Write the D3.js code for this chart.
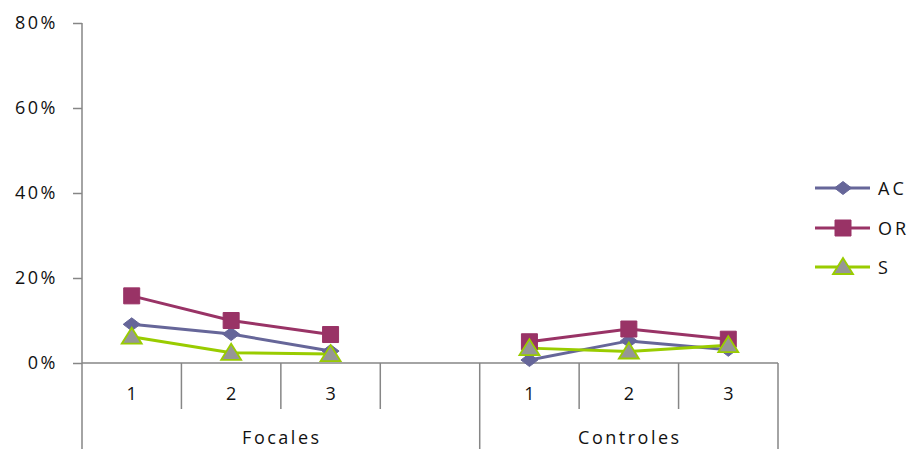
<!DOCTYPE html>
<html>
<head>
<meta charset="utf-8">
<script src="https://cdn.jsdelivr.net/npm/d3@7"></script>
<style>
  html, body { margin: 0; padding: 0; background: #fff; }
  svg { display: block; }
  text { font-family: "Open Sans", "DejaVu Sans", sans-serif; fill: #111; }
</style>
</head>
<body>
<script>
// Category slots along the x axis (empty slot separates the two groups)
const slots = ["1", "2", "3", "", "1", "2", "3"];
const groupNames = ["Focales", "Controles"];
const groupSpans = [4, 3];

// Series values in percent (null = no value in that slot)
const seriesNames = ["AC", "OR", "S"];
const acValues = [9.1, 6.8, 2.8, null, 0.7, 5.2, 3.1];
const orValues = [15.8, 10.0, 6.7, null, 5.0, 8.0, 5.6];
const sValues  = [6.2, 2.4, 2.1, null, 3.5, 2.7, 4.2];
const yTicks = [0, 20, 40, 60, 80];

const W = 912, H = 449;
const plotLeft = 82, plotRight = 778, plotTop = 23, plotBase = 363;

const svg = d3.select("body").append("svg").attr("width", W).attr("height", H);

const x = d3.scaleBand().domain(d3.range(slots.length)).range([plotLeft, plotRight]).padding(0);
const y = d3.scaleLinear().domain([0, 80]).range([plotBase, plotTop]);

const axisColor = "#868686";
const fontSize = 18;

// Y axis
const yAxis = svg.append("g").attr("transform", `translate(${plotLeft},0)`)
  .call(d3.axisLeft(y).tickValues(yTicks).tickFormat(d => d + "%").tickSize(9).tickPadding(15));
yAxis.select(".domain").remove();
yAxis.selectAll("line").attr("stroke", axisColor).attr("stroke-width", 1.5);
yAxis.selectAll("text").attr("font-size", fontSize).attr("letter-spacing", 2.5)
  .style("font-family", "'Open Sans', sans-serif").attr("fill", "#111");
svg.append("line").attr("x1", plotLeft).attr("x2", plotLeft).attr("y1", plotTop).attr("y2", H)
  .attr("stroke", axisColor).attr("stroke-width", 1.5);

// X axis baseline
svg.append("line").attr("x1", plotLeft).attr("x2", plotRight).attr("y1", plotBase).attr("y2", plotBase)
  .attr("stroke", axisColor).attr("stroke-width", 1.5);

// Slot dividers: short inside a group, long at group boundaries
const boundaries = [0];
groupSpans.reduce((acc, s) => { boundaries.push(acc + s); return acc + s; }, 0);
for (let i = 1; i <= slots.length; i++) {
  const xb = i < slots.length ? x(i) : plotRight;
  const isGroupEdge = boundaries.includes(i);
  svg.append("line").attr("x1", xb).attr("x2", xb).attr("y1", plotBase)
    .attr("y2", isGroupEdge ? H : 409)
    .attr("stroke", axisColor).attr("stroke-width", 1.5);
}

// Slot labels
svg.selectAll(".slotLabel").data(slots).enter().append("text")
  .attr("x", (d, i) => x(i) + x.bandwidth() / 2)
  .attr("y", 400).attr("text-anchor", "middle").attr("font-size", fontSize)
  .text(d => d);

// Group labels
let start = 0;
groupNames.forEach((g, gi) => {
  const x0 = x(start);
  const x1 = start + groupSpans[gi] < slots.length ? x(start + groupSpans[gi]) : plotRight;
  svg.append("text").attr("x", (x0 + x1) / 2 + 1).attr("y", 444)
    .attr("text-anchor", "middle").attr("font-size", fontSize).attr("letter-spacing", 2.5)
    .text(g);
  start += groupSpans[gi];
});

// Marker shapes
const diamondPath = "M0,-6.5L8.5,0L0,6.5L-8.5,0Z";
const squarePath = "M-8,-8H8V8H-8Z";
const trianglePath = "M0,-9L10,7L-10,7Z";

// Series
const series = [
  { name: seriesNames[0], values: acValues, stroke: "#666699", fill: "#666699", shape: diamondPath, markStroke: "#666699", mw: 1 },
  { name: seriesNames[1], values: orValues, stroke: "#993366", fill: "#993366", shape: squarePath, markStroke: "#993366", mw: 1 },
  { name: seriesNames[2], values: sValues, stroke: "#99cc00", fill: "#969696", shape: trianglePath, markStroke: "#99cc00", mw: 1.8 }
];

const line = d3.line()
  .defined(d => d != null)
  .x((d, i) => x(i) + x.bandwidth() / 2)
  .y(d => y(d));

series.forEach(s => {
  svg.append("path").datum(s.values).attr("d", line)
    .attr("fill", "none").attr("stroke", s.stroke).attr("stroke-width", 3);
});
series.forEach(s => {
  svg.selectAll(null).data(s.values.map((v, i) => ({ v, i })).filter(d => d.v != null))
    .enter().append("path")
    .attr("d", s.shape)
    .attr("transform", d => `translate(${x(d.i) + x.bandwidth() / 2},${y(d.v)})`)
    .attr("fill", s.fill).attr("stroke", s.markStroke).attr("stroke-width", s.mw);
});

// Legend
const legendY = [188, 228, 267];
series.forEach((s, i) => {
  const g = svg.append("g").attr("transform", `translate(0,${legendY[i]})`);
  g.append("line").attr("x1", 815).attr("x2", 870).attr("y1", 0).attr("y2", 0)
    .attr("stroke", s.stroke).attr("stroke-width", 3);
  g.append("path").attr("d", s.shape)
    .attr("transform", "translate(843,0)")
    .attr("fill", s.fill).attr("stroke", s.markStroke).attr("stroke-width", s.mw);
  g.append("text").attr("x", 878).attr("y", 6.5).attr("font-size", fontSize).attr("letter-spacing", 3)
    .text(s.name);
});
</script>
</body>
</html>
